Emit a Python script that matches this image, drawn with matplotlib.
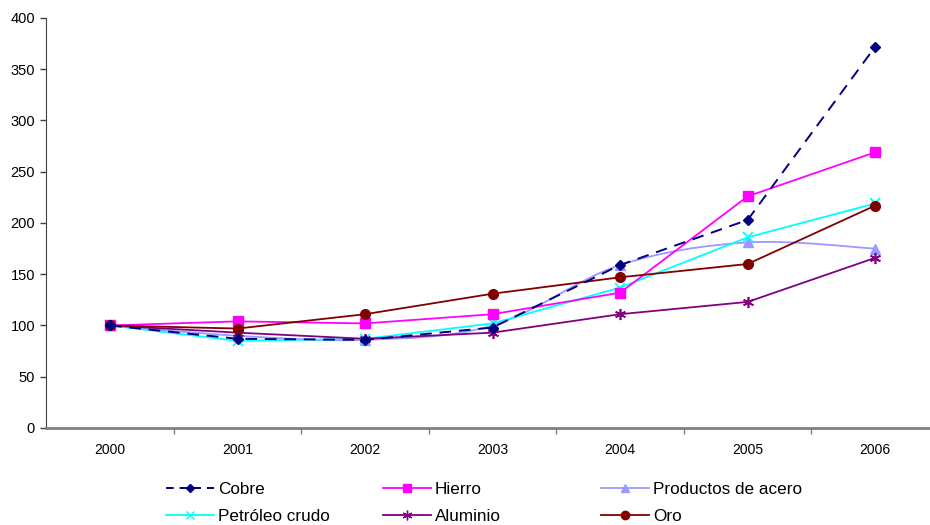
import matplotlib.pyplot as plt
import numpy as np
from matplotlib.path import Path
from matplotlib.patches import PathPatch
from matplotlib.lines import Line2D

plt.rcParams['font.family'] = ['Liberation Sans', 'DejaVu Sans']

years = ['2000', '2001', '2002', '2003', '2004', '2005', '2006']

cobre = [100, 87, 86, 98, 159, 203, 372]
hierro = [100, 104, 102, 111, 132, 226, 269]
acero = [100, 90, 86, 100, 159, 181, 175]
petroleo = [100, 85, 87, 102, 137, 186, 219]
aluminio = [100, 93, 87, 93, 111, 123, 166]
oro = [100, 97, 111, 131, 147, 160, 217]

x = np.arange(len(years))

fig = plt.figure(figsize=(9.3, 5.25), dpi=100)
ax = fig.add_axes([0.0497, 0.1848, 0.96, 0.781])


def smooth_path(xs, ys, t=1 / 6):
    # Catmull-Rom style bezier segments through the data points
    verts = [(xs[0], ys[0])]
    codes = [Path.MOVETO]
    n = len(xs)
    for i in range(n - 1):
        p0 = np.array([xs[max(i - 1, 0)], ys[max(i - 1, 0)]], float)
        p1 = np.array([xs[i], ys[i]], float)
        p2 = np.array([xs[i + 1], ys[i + 1]], float)
        p3 = np.array([xs[min(i + 2, n - 1)], ys[min(i + 2, n - 1)]], float)
        c1 = p1 + (p2 - p0) * t
        c2 = p2 - (p3 - p1) * t
        verts += [tuple(c1), tuple(c2), tuple(p2)]
        codes += [Path.CURVE4] * 3
    return Path(verts, codes)


# smoothed line for steel products
ax.add_patch(PathPatch(smooth_path(x, acero), fill=False, edgecolor='#9999FF',
                       lw=1.3, zorder=2))
ax.plot(x, acero, ls='none', marker='^', ms=7, color='#9999FF', zorder=3)

ax.plot(x, petroleo, color='#00FFFF', lw=1.3, marker='x', ms=7, mew=1.3, zorder=3)
ax.plot(x, aluminio, color='#800080', lw=1.3, marker=(6, 2, 0), ms=8, mew=1.2, zorder=3)
ax.plot(x, hierro, color='#FF00FF', lw=1.3, marker='s', ms=6.5, zorder=3)
ax.plot(x, oro, color='#800000', lw=1.3, marker='o', ms=7, zorder=4)
ax.plot(x, cobre, color='#000080', lw=1.4, ls=(0, (6, 4)), marker='D', ms=5, zorder=5)

ax.set_xlim(-0.5, 6.5)
ax.set_ylim(0, 400)
ax.set_yticks(range(0, 401, 50))
ax.set_xticks(x)
ax.set_xticklabels(years)
ax.set_xticks(np.arange(0.5, 6.5, 1), minor=True)

for side in ('top', 'right'):
    ax.spines[side].set_visible(False)
ax.spines['left'].set_color('#404040')
ax.spines['bottom'].set_color('#808080')
ax.spines['bottom'].set_linewidth(2)

ax.tick_params(axis='y', length=4, width=1, color='#404040', labelsize=10.5, pad=4)
ax.tick_params(axis='x', which='major', length=0, labelsize=10, pad=11)
ax.tick_params(axis='x', which='minor', length=4, width=1, color='#808080')

# legend: three columns, two rows each
columns = [
    ([Line2D([], [], color='#000080', lw=1.4, ls=(0, (4, 3)), marker='D', ms=4),
      Line2D([], [], color='#00FFFF', lw=1.3, marker='x', ms=6)],
     ['Cobre', 'Petróleo crudo'], 166),
    ([Line2D([], [], color='#FF00FF', lw=1.3, marker='s', ms=6),
      Line2D([], [], color='#800080', lw=1.3, marker=(6, 2, 0), ms=7)],
     ['Hierro', 'Aluminio'], 383),
    ([Line2D([], [], color='#9999FF', lw=1.3, marker='^', ms=6),
      Line2D([], [], color='#800000', lw=1.3, marker='o', ms=6)],
     ['Productos de acero', 'Oro'], 601),
]
for hs, labs, xpix in columns:
    leg = fig.legend(hs, labs, loc='upper left', bbox_to_anchor=(xpix / 930, 0.082),
                     frameon=False, fontsize=12.3, handlelength=2.8,
                     handletextpad=0.25, labelspacing=0.72, borderpad=0,
                     borderaxespad=0)

fig.savefig('out.png', dpi=100)
